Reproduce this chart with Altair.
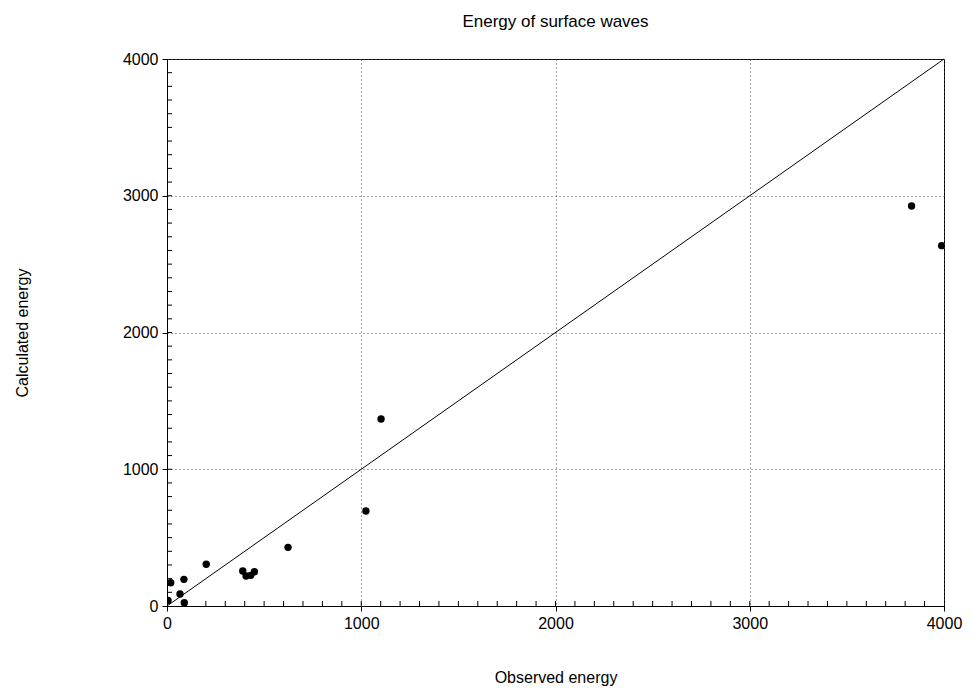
import altair as alt
import pandas as pd

observed = [5, 19, 67, 87, 89, 202, 390, 407, 431, 450, 623, 1024, 1102, 3833, 3988]
calculated = [40, 170, 88, 195, 24, 305, 256, 219, 224, 251, 429, 695, 1367, 2925, 2635]
minor = list(range(100, 4000, 100))
line_vals = [0, 4000]

pts = pd.DataFrame({"obs": observed, "calc": calculated})
ln = pd.DataFrame({"obs": line_vals, "calc": line_vals})
mn = pd.DataFrame({"v": minor})

W, H = 777, 547
xs = alt.Scale(domain=[0, 4000], nice=False)
ys = alt.Scale(domain=[0, 4000], nice=False)
FONT = "Liberation Sans"

xaxis = alt.Axis(values=[0, 1000, 2000, 3000, 4000], title="Observed energy", format="d",
                 grid=True, gridDash=[1, 3], gridColor="#444", gridOpacity=1,
                 tickSize=5, tickColor="black", domainColor="black", labelFlush=False,
                 labelFont=FONT, labelFontSize=16, labelColor="black", labelPadding=4,
                 titleFont=FONT, titleFontSize=16, titleFontWeight="normal",
                 titleColor="black", titlePadding=38)
yaxis = alt.Axis(values=[0, 1000, 2000, 3000, 4000], title="Calculated energy", format="d",
                 grid=True, gridDash=[1, 3], gridColor="#444", gridOpacity=1,
                 tickSize=5, tickColor="black", domainColor="black", labelFlush=False,
                 labelFont=FONT, labelFontSize=16, labelColor="black", labelPadding=4,
                 titleFont=FONT, titleFontSize=16, titleFontWeight="normal",
                 titleColor="black", titleX=-145, titleY=H / 2, titleAngle=-90,
                 titleAlign="center", titleBaseline="middle")

base_pts = alt.Chart(pts).mark_circle(size=55, color="black", opacity=1, clip=True).encode(
    x=alt.X("obs:Q", scale=xs, axis=xaxis),
    y=alt.Y("calc:Q", scale=ys, axis=yaxis),
)
diag = alt.Chart(ln).mark_line(color="black", strokeWidth=1).encode(
    x=alt.X("obs:Q", scale=xs), y=alt.Y("calc:Q", scale=ys)
)
xminor = alt.Chart(mn).mark_rule(color="black", strokeWidth=1).encode(
    x=alt.X("v:Q", scale=xs), y=alt.value(H), y2=alt.value(H - 5)
)
yminor = alt.Chart(mn).mark_rule(color="black", strokeWidth=1).encode(
    y=alt.Y("v:Q", scale=ys), x=alt.value(0), x2=alt.value(5)
)

chart = alt.layer(diag, xminor, yminor, base_pts).properties(
    width=W, height=H,
    title=alt.TitleParams("Energy of surface waves", font=FONT, fontSize=17,
                          fontWeight="normal", color="black", offset=20, anchor="middle"),
    padding={"left": 167, "top": 59, "right": 28, "bottom": 86},
    autosize=alt.AutoSizeParams(type="none"),
    background="white",
).configure_view(stroke="black", strokeWidth=1)

chart.save("out.html", embed_options={"renderer": "svg", "actions": False})
